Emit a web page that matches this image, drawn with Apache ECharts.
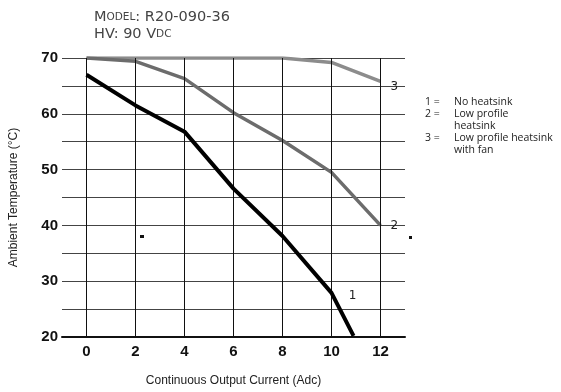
<!DOCTYPE html>
<html>
<head>
<meta charset="utf-8">
<script src="https://cdn.jsdelivr.net/npm/echarts@6/dist/echarts.min.js"></script>
<style>
  html, body { margin: 0; padding: 0; background: #fff; }
  #chart { width: 561px; height: 392px; }
</style>
</head>
<body>
<div id="chart"></div>
<script>
// Derating curves: ambient temperature vs continuous output current
const currentTicks = [0, 2, 4, 6, 8, 10, 12];
const noHeatsinkCurrent = [0, 2, 4, 6, 8, 10, 10.9];
const noHeatsinkTemp = [67, 61.5, 56.8, 46.6, 38.1, 27.9, 20.2];
const lowProfileCurrent = [0, 2, 4, 6, 8, 10, 12];
const lowProfileTemp = [70, 69.4, 66.3, 60.2, 55.2, 49.5, 40];
const withFanCurrent = [0, 2, 4, 6, 8, 10, 12];
const withFanTemp = [70, 70, 70, 70, 70, 69.2, 65.8];
const legendLines = [
  ['1 =', 'No heatsink'],
  ['2 =', 'Low profile'],
  ['', 'heatsink'],
  ['3 =', 'Low profile heatsink'],
  ['', 'with fan']
];

const pairs = (xs, ys) => xs.map((x, i) => [x, ys[i]]);

const chart = echarts.init(document.getElementById('chart'), null, { renderer: 'canvas' });

const tagLabel = {
  color: '#222',
  fontFamily: 'DejaVu Sans',
  fontSize: 12
};

const legendGraphics = [];
legendLines.forEach((row, i) => {
  const y = 104 + i * 11.9;
  if (row[0]) {
    legendGraphics.push({
      type: 'text', left: 425, top: y - 7,
      style: { text: row[0], fontFamily: 'Open Sans', fontSize: 10.5, fill: '#222' }
    });
  }
  legendGraphics.push({
    type: 'text', left: 454, top: y - 7,
    style: { text: row[1], fontFamily: 'Open Sans', fontSize: 10.5, fill: '#222' }
  });
});

const option = {
  animation: false,
  backgroundColor: '#fff',
  title: {
    left: 89, top: 3,
    text: '{b|M}{s|ODEL}{b|: R20-090-36}\n{b|HV: 90 V}{s|DC}',
    textStyle: {
      fontWeight: 'normal',
      rich: {
        b: { fontFamily: 'DejaVu Sans', fontWeight: 'normal', fontSize: 14.5, color: '#444', lineHeight: 17, verticalAlign: 'bottom' },
        s: { fontFamily: 'DejaVu Sans', fontWeight: 'normal', fontSize: 10.5, color: '#444', lineHeight: 11, verticalAlign: 'bottom', padding: [0, 0, 2, 0] }
      }
    }
  },
  grid: { left: 61, right: 156, top: 58, bottom: 53, containLabel: false },
  xAxis: {
    type: 'value', min: -1, max: 13, interval: 1,
    name: 'Continuous Output Current (Adc)',
    nameLocation: 'middle', nameGap: 38,
    nameTextStyle: { fontFamily: 'Liberation Sans', fontSize: 12, color: '#222' },
    axisLine: { show: true, lineStyle: { color: '#111', width: 2 } },
    axisTick: { show: false },
    splitLine: { show: false },
    axisLabel: {
      margin: 7,
      fontFamily: 'Liberation Sans', fontWeight: 'bold', fontSize: 15, color: '#111',
      formatter: v => currentTicks.includes(v) ? String(v) : ''
    }
  },
  yAxis: {
    type: 'value', min: 20, max: 70, interval: 5,
    name: 'Ambient Temperature (\u00B0C)',
    nameLocation: 'middle', nameGap: 42, nameRotate: 90,
    nameTextStyle: { fontFamily: 'Liberation Sans', fontSize: 12, color: '#222' },
    axisLine: { show: false },
    axisTick: { show: false },
    splitLine: { show: true, lineStyle: { color: '#444', width: 1 } },
    axisLabel: {
      margin: 4,
      fontFamily: 'Liberation Sans', fontWeight: 'bold', fontSize: 15, color: '#111',
      formatter: v => (v % 10 === 0 ? String(v) : '')
    }
  },
  series: [
    {
      // vertical grid lines at each labelled current
      type: 'line', data: [], silent: true,
      markLine: {
        silent: true, symbol: 'none', label: { show: false },
        lineStyle: { color: '#111', width: 1, type: 'solid' },
        data: currentTicks.map(v => ({ xAxis: v }))
      }
    },
    {
      name: 'Low profile heatsink with fan',
      type: 'line', data: pairs(withFanCurrent, withFanTemp),
      symbol: 'none', z: 3,
      lineStyle: { color: '#8c8c8c', width: 3.5 },
      endLabel: { show: true, formatter: '3', distance: 10, offset: [0, 5], ...tagLabel }
    },
    {
      name: 'Low profile heatsink',
      type: 'line', data: pairs(lowProfileCurrent, lowProfileTemp),
      symbol: 'none', z: 4,
      lineStyle: { color: '#6c6c6c', width: 3.5 },
      endLabel: { show: true, formatter: '2', distance: 10, ...tagLabel }
    },
    {
      name: 'No heatsink',
      type: 'line', data: pairs(noHeatsinkCurrent, noHeatsinkTemp),
      symbol: 'none', z: 5,
      lineStyle: { color: '#000', width: 4 },
      markPoint: {
        symbol: 'circle', symbolSize: 0,
        label: { show: true, formatter: '1', offset: [21, 3], ...tagLabel },
        data: [{ coord: [noHeatsinkCurrent[5], noHeatsinkTemp[5]] }]
      }
    }
  ],
  graphic: [
    ...legendGraphics,
    { type: 'rect', left: 140, top: 235, shape: { width: 4, height: 3 }, style: { fill: '#111' } },
    { type: 'rect', left: 409, top: 236, shape: { width: 3, height: 3 }, style: { fill: '#111' } }
  ]
};

chart.setOption(option);
</script>
</body>
</html>
